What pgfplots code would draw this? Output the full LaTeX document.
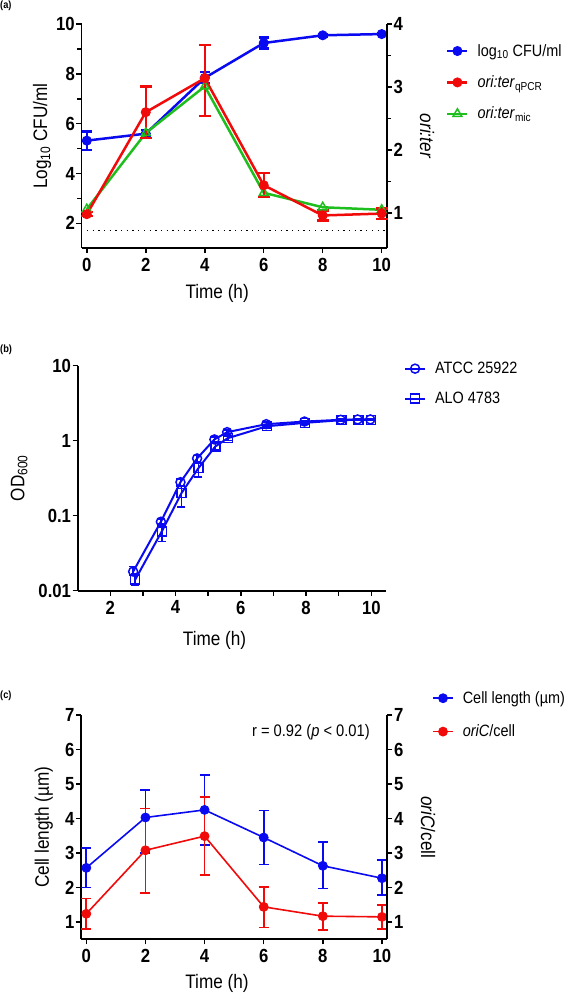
\documentclass[border=0pt]{standalone}
\usepackage{fontspec}
\setmainfont{Liberation Sans}[FakeStretch=0.88]
\usepackage{pgfplots}
\pgfplotsset{compat=1.18}
\definecolor{cblue}{RGB}{10,10,240}
\definecolor{cred}{RGB}{240,10,10}
\definecolor{cgreen}{RGB}{30,190,30}
\newcommand{\tickfont}{\fontsize{19}{19}\selectfont\bfseries}
\newcommand{\labfont}{\fontsize{19.5}{22}\selectfont}
\newcommand{\legfont}{\fontsize{16.4}{19}\selectfont}
\pgfplotsset{
  gp/.style={
    scale only axis, clip=false,
    axis line style={line width=1.8pt, black},
    tick style={line width=1.5pt, black},
    major tick length=5pt, minor tick length=4pt,
    tick align=outside,
    /pgf/number format/assume math mode=true,
    ticklabel style={font=\tickfont},
    xticklabel style={inner ysep=5pt},
    yticklabel style={inner xsep=1.5pt},
    legend cell align=left,
    legend image code/.code={\draw[mark repeat=2,mark phase=2,##1] plot coordinates {(0pt,0pt) (10pt,0pt) (20pt,0pt)};},
    legend style={draw=none, fill=none, font=\legfont, anchor=north west, inner sep=0pt, nodes={inner sep=1pt}, column sep=8pt},
  },
}
\begin{document}
\begin{tikzpicture}
\useasboundingbox (0,0) rectangle (566pt,995pt);
% panel labels
\node[anchor=west, font=\fontsize{10.5}{11}\selectfont\bfseries, inner sep=0pt] at (0pt,989pt) {(a)};
\node[anchor=west, font=\fontsize{10.5}{11}\selectfont\bfseries, inner sep=0pt] at (0pt,645pt) {(b)};
\node[anchor=west, font=\fontsize{10.5}{11}\selectfont\bfseries, inner sep=0pt] at (0pt,299pt) {(c)};

% ---------------- (a) left axis
\begin{axis}[gp, at={(81.5pt,746.8pt)}, anchor=south west, width=305.5pt, height=224.1pt,
  xmin=-0.18, xmax=10.18, ymin=1, ymax=10,
  axis x line*=bottom, axis y line*=left,
  xtick={0,2,4,6,8,10}, ytick={2,4,6,8,10}, minor ytick={3,5,7,9},
  xlabel={Time (h)}, ylabel={Log\textsubscript{10} CFU/ml},
  every axis x label/.style={at={(axis description cs:0.444,-0.2)}, anchor=center, font=\labfont},
  every axis y label/.style={at={(axis description cs:-0.129,0.5)}, rotate=90, anchor=center, font=\labfont},
]
\addplot[black, line width=1.3pt, dash pattern=on 1.3pt off 4.4pt] coordinates {(0,1.7) (10.1,1.7)};
\addplot[cblue, line width=2.5pt, mark=*, mark size=4.5pt, mark options={solid, line width=1pt},
  error bars/.cd, y dir=both, y explicit, error bar style={line width=2.2pt}, error mark options={rotate=90, line width=2.2pt, mark size=5pt}]
  coordinates {(0,5.32) +- (0,0.37) (2,5.6) +- (0,0.15) (4,7.84) +- (0,0.22) (6,9.24) +- (0,0.22) (8,9.55) +- (0,0.05) (10,9.6) +- (0,0.05)};
\end{axis}
% ---------------- (a) right axis
\begin{axis}[gp, at={(81.5pt,746.8pt)}, anchor=south west, width=305.5pt, height=224.1pt,
  xmin=-0.18, xmax=10.18, ymin=0.44, ymax=4,
  axis x line=none, axis y line*=right,
  ytick={1,2,3,4}, minor ytick={1.5,2.5,3.5},
  ylabel={\textit{ori:ter}},
  every axis y label/.style={at={(axis description cs:1.131,0.5)}, rotate=-90, anchor=center, font=\labfont},
  legend style={at={(axis description cs:1.193,0.915)}, row sep=16pt},
]
\addlegendimage{cblue, line width=2.5pt, mark=*, mark size=4.5pt, mark options={solid, line width=1pt}}
\addlegendentry{log\textsubscript{10} CFU/ml}
\addlegendimage{cred, line width=2.5pt, mark=*, mark size=4.5pt, mark options={solid, line width=1pt}}
\addlegendentry{\textit{ori:ter}\textsubscript{qPCR}}
\addlegendimage{cgreen, line width=2.5pt, mark=triangle, mark size=5pt, mark options={solid, line width=1.5pt}}
\addlegendentry{\textit{ori:ter}\textsubscript{mic}}
\addplot[forget plot, cgreen, line width=2.5pt, mark=triangle, mark size=5pt, mark options={solid, line width=1.5pt}]
  coordinates {(0,1.06) (2,2.27) (4,3.01) (6,1.32) (8,1.09) (10,1.05)};
\addplot[forget plot, cred, line width=2.5pt, mark=*, mark size=4.5pt, mark options={solid, line width=1pt},
  error bars/.cd, y dir=both, y explicit, error bar style={line width=2.2pt}, error mark options={rotate=90, line width=2.2pt, mark size=6pt}]
  coordinates {(0,0.98) +- (0,0.03) (2,2.6) +- (0,0.41) (4,3.14) += (0,0.53) -= (0,0.6) (6,1.44) +- (0,0.19) (8,0.96) +- (0,0.08) (10,0.99) +- (0,0.08)};
\end{axis}

% ---------------- (b)
\begin{axis}[gp, at={(77.7pt,404.3pt)}, anchor=south west, width=308.3pt, height=225pt,
  ymode=log, xmin=1, xmax=10.45, ymin=0.01, ymax=10,
  axis x line*=bottom, axis y line*=left,
  xtick={2,4,6,8,10}, minor xtick={3,5,7,9}, minor tick length=5pt,
  ytick={0.01,0.1,1,10}, yticklabels={0.01,0.1,1,10},
  minor y tick style={draw=none},
  xlabel={Time (h)}, ylabel={OD\textsubscript{600}},
  every axis x label/.style={at={(axis description cs:0.444,-0.22)}, anchor=center, font=\labfont},
  every axis y label/.style={at={(axis description cs:-0.19,0.5)}, rotate=90, anchor=center, font=\labfont},
  legend style={at={(axis description cs:1.058,1.021)}, row sep=15pt},
]
\addplot[cblue, line width=2pt, mark=o, mark size=4.5pt, mark options={solid, line width=1.5pt},
  error bars/.cd, y dir=both, y explicit, error bar style={line width=1.5pt}, error mark options={rotate=90, line width=1.5pt, mark size=4pt}]
  coordinates {(2.7,0.018) += (0,0.003) -= (0,0.002) (3.55,0.083) += (0,0.008) -= (0,0.008) (4.15,0.28) += (0,0.03) -= (0,0.03)
    (4.66,0.58) += (0,0.05) -= (0,0.05) (5.19,1.04) += (0,0.08) -= (0,0.08) (5.58,1.3) += (0,0.08) -= (0,0.08)
    (6.78,1.66) += (0,0.08) -= (0,0.08) (7.95,1.8) += (0,0.06) -= (0,0.06) (9.06,1.9) += (0,0.05) -= (0,0.05)
    (9.58,1.92) += (0,0.05) -= (0,0.05) (9.97,1.92) += (0,0.05) -= (0,0.05)};
\addlegendentry{ATCC 25922}
\addplot[cblue, line width=2pt, mark=square, mark size=4.5pt, mark options={solid, line width=1.5pt},
  error bars/.cd, y dir=both, y explicit, error bar style={line width=1.5pt}, error mark options={rotate=90, line width=1.5pt, mark size=4pt}]
  coordinates {(2.76,0.014) += (0,0.003) -= (0,0.002) (3.58,0.062) += (0,0.015) -= (0,0.017) (4.18,0.2) += (0,0.05) -= (0,0.07)
    (4.7,0.43) += (0,0.08) -= (0,0.1) (5.22,0.84) += (0,0.08) -= (0,0.08) (5.6,1.08) += (0,0.08) -= (0,0.08)
    (6.8,1.56) += (0,0.08) -= (0,0.08) (7.97,1.73) += (0,0.06) -= (0,0.06) (9.08,1.88) += (0,0.05) -= (0,0.05)
    (9.6,1.9) += (0,0.05) -= (0,0.05) (9.99,1.9) += (0,0.05) -= (0,0.05)};
\addlegendentry{ALO 4783}
\end{axis}

% ---------------- (c) left axis
\begin{axis}[gp, at={(81pt,55.7pt)}, anchor=south west, width=306.3pt, height=224.3pt,
  xmin=-0.18, xmax=10.18, ymin=0.5, ymax=7,
  axis x line*=bottom, axis y line*=left,
  xtick={0,2,4,6,8,10}, ytick={1,2,3,4,5,6,7},
  xlabel={Time (h)}, ylabel={Cell length (µm)},
  every axis x label/.style={at={(axis description cs:0.444,-0.195)}, anchor=center, font=\labfont},
  every axis y label/.style={at={(axis description cs:-0.121,0.5)}, rotate=90, anchor=center, font=\labfont},
  legend style={at={(axis description cs:1.146,1.11)}, row sep=18pt},
]
\addplot[cblue, line width=1.6pt, mark=*, mark size=4.5pt, mark options={solid, line width=0.8pt},
  error bars/.cd, y dir=both, y explicit, error bar style={line width=1.8pt}, error mark options={rotate=90, line width=1.8pt, mark size=5pt}]
  coordinates {(0,2.57) += (0,0.58) -= (0,0.57) (2,4.03) += (0,0.8) -= (0,1.03) (4,4.25) += (0,1.01) -= (0,1.02)
    (6,3.45) += (0,0.78) -= (0,0.78) (8,2.63) += (0,0.68) -= (0,0.66) (10,2.27) += (0,0.53) -= (0,0.49)};
\addlegendentry{Cell length (µm)}
\addplot[cred, line width=1.6pt, mark=*, mark size=4.5pt, mark options={solid, line width=0.8pt},
  error bars/.cd, y dir=both, y explicit, error bar style={line width=1.8pt}, error mark options={rotate=90, line width=1.8pt, mark size=5pt}]
  coordinates {(0,1.24) += (0,0.44) -= (0,0.44) (2,3.08) += (0,1.21) -= (0,1.24) (4,3.49) += (0,1.14) -= (0,1.13)
    (6,1.44) += (0,0.58) -= (0,0.6) (8,1.17) += (0,0.38) -= (0,0.39) (10,1.15) += (0,0.34) -= (0,0.36)};
\addlegendentry{\textit{oriC}/cell}
\node[anchor=west, font=\fontsize{16.7}{19}\selectfont, inner sep=0pt] at (axis cs:5.6,6.51) {r = 0.92 (\textit{p} < 0.01)};
\end{axis}
% ---------------- (c) right axis
\begin{axis}[gp, at={(81pt,55.7pt)}, anchor=south west, width=306.3pt, height=224.3pt,
  xmin=-0.18, xmax=10.18, ymin=0.5, ymax=7,
  axis x line=none, axis y line*=right,
  ytick={1,2,3,4,5,6,7},
  ylabel={\textit{oriC}/cell},
  every axis y label/.style={at={(axis description cs:1.133,0.5)}, rotate=-90, anchor=center, font=\labfont},
]
\end{axis}
\end{tikzpicture}
\end{document}
